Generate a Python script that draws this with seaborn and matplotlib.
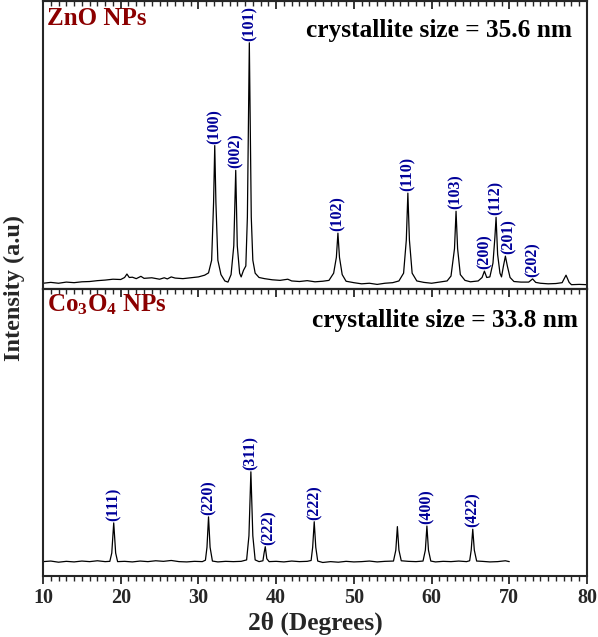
import numpy as np
import pandas as pd
import matplotlib
matplotlib.use("Agg")
import matplotlib.pyplot as plt
from matplotlib.ticker import MultipleLocator
import seaborn as sns

# ZnO trace (2theta, intensity a.u.)
zno_2theta = [10.0, 11.0, 12.0, 13.0, 14.0, 15.0, 16.0, 17.0, 18.0, 19.0, 20.0, 20.5, 20.8, 21.1, 21.5,
              22.0, 22.6, 23.0, 24.0, 25.0, 25.6, 26.0, 26.5, 27.0, 28.0, 29.0, 30.0, 30.8, 31.3, 31.7,
              31.95, 32.1, 32.25, 32.5, 32.9, 33.4, 33.8, 34.2, 34.55, 34.8, 35.0, 35.3, 35.5, 35.8, 36.1,
              36.3, 36.55, 36.8, 37.0, 37.3, 37.8, 38.5, 39.5, 40.5, 41.5, 42.0, 43.0, 44.0, 45.0, 46.0,
              46.8, 47.4, 47.75, 47.95, 48.15, 48.5, 49.0, 50.0, 51.0, 52.0, 53.0, 54.0, 55.0, 55.8, 56.4,
              56.75, 56.95, 57.15, 57.5, 58.1, 59.0, 60.0, 61.0, 62.0, 62.5, 62.95, 63.15, 63.35, 63.7, 64.3,
              65.0, 66.0, 66.5, 66.8, 67.1, 67.5, 67.9, 68.15, 68.3, 68.5, 68.8, 69.0, 69.25, 69.5, 69.75,
              70.1, 70.6, 71.5, 72.5, 73.0, 73.4, 74.0, 75.0, 76.0, 76.8, 77.3, 77.7, 78.0, 79.0, 80.0]
zno_int = [2.0, 2.3, 2.0, 2.4, 2.2, 2.5, 2.6, 2.9, 3.1, 3.4, 3.3, 4.0, 5.2, 4.0, 4.1,
           3.6, 4.4, 3.7, 3.9, 3.4, 3.9, 3.5, 4.2, 3.8, 3.6, 3.9, 4.2, 4.8, 5.6, 10.0,
           30.0, 49.8, 30.0, 10.0, 5.0, 2.8, 2.4, 5.0, 15.0, 41.2, 15.0, 5.5, 4.2, 6.5, 8.0,
           25.0, 85.5, 25.0, 10.0, 5.5, 4.0, 3.6, 3.2, 3.0, 3.4, 2.8, 2.6, 2.9, 2.5, 2.7,
           3.0, 5.5, 11.0, 19.4, 11.0, 5.0, 2.7, 2.2, 1.8, 2.0, 1.6, 2.0, 2.2, 2.8, 5.5,
           17.0, 33.3, 17.0, 5.5, 2.8, 2.3, 2.0, 2.4, 2.8, 4.5, 14.0, 27.0, 14.0, 5.0, 3.0,
           2.5, 2.8, 4.0, 6.2, 4.0, 4.2, 9.0, 18.0, 24.9, 12.0, 5.5, 4.2, 8.0, 11.4, 8.0,
           4.0, 2.6, 2.4, 2.4, 3.5, 2.3, 2.0, 1.8, 1.9, 2.2, 4.8, 2.3, 1.5, 1.6, 1.5]

# Co3O4 trace
co_2theta = [10.0, 11.0, 12.0, 13.0, 14.0, 15.0, 16.0, 17.0, 18.0, 18.6, 18.85, 19.1, 19.35, 19.6, 20.5,
             21.5, 22.5, 23.5, 24.5, 25.5, 26.5, 27.5, 28.5, 29.5, 30.5, 30.9, 31.1, 31.3, 31.5, 31.8,
             32.5, 33.5, 34.5, 35.5, 36.2, 36.5, 36.75, 37.0, 37.3, 37.8, 38.3, 38.45, 38.6, 38.8, 39.1,
             40.0, 41.0, 42.0, 43.0, 44.0, 44.5, 44.7, 44.9, 45.1, 45.35, 46.0, 47.0, 48.0, 49.0, 50.0,
             51.0, 52.0, 53.0, 54.0, 55.1, 55.4, 55.6, 55.8, 56.1, 57.0, 58.0, 58.9, 59.2, 59.4, 59.6,
             59.9, 60.5, 61.5, 62.5, 63.5, 64.5, 64.9, 65.1, 65.3, 65.5, 65.8, 66.5, 67.5, 68.5, 69.5, 70.0]
co_int = [5.0, 5.2, 4.8, 5.1, 4.9, 5.2, 5.0, 5.3, 5.0, 5.1, 8.0, 18.5, 8.0, 5.0, 5.1,
          4.9, 5.2, 5.0, 5.3, 5.1, 5.4, 5.0, 4.9, 5.1, 5.0, 5.5, 10.0, 20.6, 10.0, 5.2,
          4.9, 5.1, 5.0, 5.1, 5.6, 14.0, 36.3, 14.0, 5.6, 5.0, 5.3, 8.0, 10.2, 6.0, 5.0,
          5.1, 4.9, 5.2, 5.0, 5.1, 5.4, 10.0, 18.9, 10.0, 5.2, 4.7, 5.0, 4.8, 5.1, 4.9,
          5.0, 5.2, 4.9, 5.1, 5.2, 9.0, 17.2, 9.0, 5.3, 5.1, 5.0, 5.2, 9.0, 17.4, 9.0,
          5.2, 4.9, 5.1, 5.0, 5.2, 5.0, 5.3, 9.0, 16.3, 9.0, 5.2, 5.1, 4.9, 5.0, 5.3, 5.0]

# peak labels: (hkl, label x, peak height)
zno_hkl = ["(100)", "(002)", "(101)", "(102)", "(110)", "(103)", "(200)", "(112)", "(201)", "(202)"]
zno_hkl_x = [32.1, 34.8, 36.55, 47.95, 56.95, 63.15, 66.8, 68.3, 69.9, 73.0]
zno_hkl_y = [49.8, 41.2, 85.5, 19.4, 33.3, 27.0, 6.2, 24.9, 11.4, 3.5]

co_hkl = ["(111)", "(220)", "(311)", "(222)", "(222)", "(400)", "(422)"]
co_hkl_x = [19.1, 31.3, 36.75, 39.0, 44.9, 59.4, 65.3]
co_hkl_y = [18.5, 20.6, 36.3, 10.2, 18.9, 17.4, 16.3]

sns.set_style("ticks")
plt.rcParams["font.family"] = ["Liberation Serif", "DejaVu Serif"]
plt.rcParams["font.weight"] = "bold"
plt.rcParams["mathtext.fontset"] = "custom"
plt.rcParams["mathtext.rm"] = "Liberation Serif:bold"
plt.rcParams["mathtext.it"] = "Liberation Serif:bold"
plt.rcParams["mathtext.bf"] = "Liberation Serif:bold"

dark_red = "#8b0000"
navy = "#000099"

fig = plt.figure(figsize=(5.98, 6.37), dpi=100)
ax1 = fig.add_axes([0.0719, 0.5463, 0.9097, 0.4521])
ax2 = fig.add_axes([0.0719, 0.0958, 0.9097, 0.4505])

zno = pd.DataFrame({"two_theta": zno_2theta, "intensity": zno_int})
co = pd.DataFrame({"two_theta": co_2theta, "intensity": co_int})

sns.lineplot(data=zno, x="two_theta", y="intensity", ax=ax1, color="black", lw=0.9, estimator=None)
sns.lineplot(data=co, x="two_theta", y="intensity", ax=ax2, color="black", lw=0.9, estimator=None)

for ax, labels, lx, ly in [(ax1, zno_hkl, zno_hkl_x, zno_hkl_y), (ax2, co_hkl, co_hkl_x, co_hkl_y)]:
    for lab, x, y in zip(labels, lx, ly):
        ax.annotate(lab, (x, y), xytext=(0, 1.5), textcoords="offset points", rotation=90,
                    ha="center", va="bottom", color=navy, fontsize=11.5, fontweight="bold")

for ax in (ax1, ax2):
    ax.set_xlim(10, 80)
    ax.set_ylim(0, 100)
    ax.set_yticks([])
    ax.set_xlabel("")
    ax.set_ylabel("")
    ax.xaxis.set_major_locator(MultipleLocator(10))
    ax.xaxis.set_minor_locator(MultipleLocator(1))
    for s in ax.spines.values():
        s.set_visible(True)
        s.set_linewidth(1.5)
    sec = ax.secondary_xaxis("top")
    sec.xaxis.set_major_locator(MultipleLocator(10))
    sec.xaxis.set_minor_locator(MultipleLocator(1))
    sec.tick_params(which="major", direction="in", length=6, width=1.3, labeltop=False)
    sec.tick_params(which="minor", direction="in", length=3.5, width=1.0)
    sec.spines["top"].set_linewidth(1.5)

ax1.tick_params(axis="x", which="both", bottom=False, labelbottom=False)
ax2.tick_params(axis="x", which="major", direction="out", length=6, width=1.3, labelsize=14.5, pad=3)
ax2.tick_params(axis="x", which="minor", direction="out", length=3.5, width=1.0)
for t in ax2.get_xticklabels():
    t.set_fontweight("bold")

ax1.text(0.008, 0.917, "ZnO NPs", transform=ax1.transAxes, color=dark_red, fontsize=18,
         fontweight="bold", ha="left", va="baseline")
ax1.text(0.972, 0.875, "crystallite size = 35.6 nm", transform=ax1.transAxes, color="black",
         fontsize=18.3, fontweight="bold", ha="right", va="baseline")
ax2.text(0.008, 0.921, r"Co$_3$O$_4$ NPs", transform=ax2.transAxes, color=dark_red, fontsize=18,
         fontweight="bold", ha="left", va="baseline")
ax2.text(0.983, 0.869, "crystallite size = 33.8 nm", transform=ax2.transAxes, color="black",
         fontsize=18.3, fontweight="bold", ha="right", va="baseline")

fig.text(0.5 * (0.0719 + 0.9816), 0.022, "2θ (Degrees)", ha="center", va="center",
         fontsize=18.3, fontweight="bold")
fig.text(0.024, 0.548, "Intensity (a.u)", ha="center", va="center", rotation=90,
         fontsize=17.5, fontweight="bold")

fig.savefig("out.png", dpi=100)
